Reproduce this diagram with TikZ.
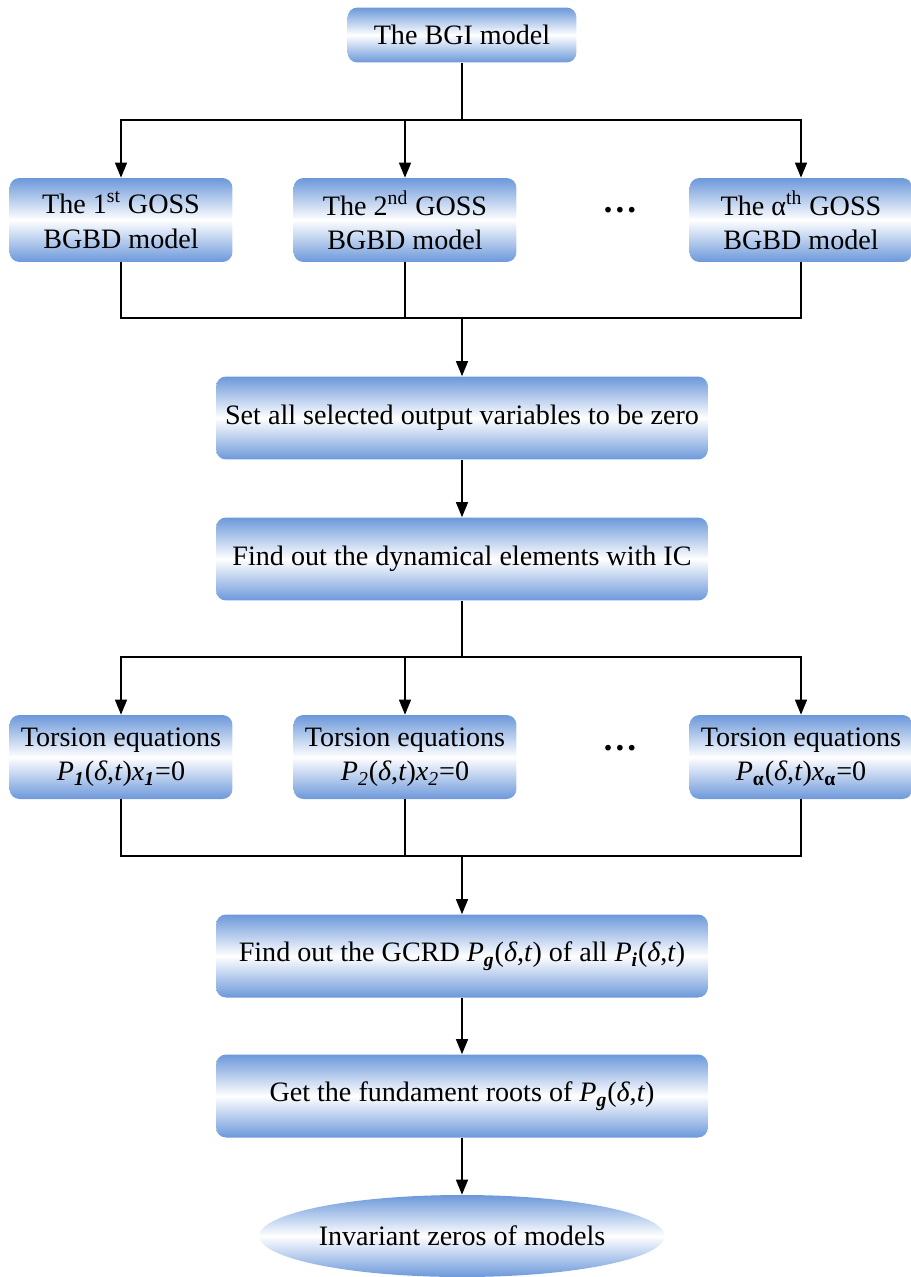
\documentclass[tikz,border=0pt]{standalone}
\usepackage{fontspec}
\setmainfont{Liberation Serif}
\usepackage{xcolor}
\usetikzlibrary{positioning,arrows.meta,shapes.geometric}

\definecolor{boxblue}{RGB}{108,152,218}
\newcommand{\deltat}{(\textit{δ},\textit{t})}

\begin{document}
\begin{tikzpicture}[x=0.02cm, y=-0.02cm,
    flowbox/.style={rounded corners=0.2cm, top color=boxblue, bottom color=boxblue, middle color=white,
        align=center, inner sep=0pt, font=\fontsize{16}{19.5}\selectfont},
    smallbox/.style={flowbox, minimum width=4.46cm, minimum height=1.68cm},
    widebox/.style={flowbox, minimum width=9.84cm, minimum height=1.66cm},
    endbox/.style={ellipse, top color=boxblue, bottom color=boxblue, middle color=white,
        inner sep=0pt, minimum width=7.9cm, minimum height=1.64cm, font=\fontsize{16}{19.5}\selectfont},
    dotsnode/.style={font=\fontsize{20}{20}\selectfont\bfseries},
    arrow/.style={-{Triangle[length=0.3cm, width=0.24cm]}, thick},
    line/.style={thick}]
    \useasboundingbox (0,0) rectangle (911,1277);

    % Wierzchołki

    \node[flowbox, minimum width=4.58cm, minimum height=1.1cm] (bgi) at (462,35) {The BGI model};
    \node[smallbox] (goss1) at (121,220) {The 1\textsuperscript{st} GOSS\\BGBD model};
    \node[smallbox] (goss2) at (405,220) {The 2\textsuperscript{nd} GOSS\\BGBD model};
    \node[dotsnode] (gossdots) at (620,210) {…};
    \node[smallbox] (gossa) at (801,220) {The α\textsuperscript{th} GOSS\\BGBD model};
    \node[widebox] (setzero) at (462,418) {Set all selected output variables to be zero};
    \node[widebox] (findic) at (462,559) {Find out the dynamical elements with IC};
    \node[smallbox] (tors1) at (121,757) {Torsion equations\\\textit{P}\textsubscript{\textbf{\textit{1}}}\deltat\textit{x}\textsubscript{\textbf{\textit{1}}}=0};
    \node[smallbox] (tors2) at (405,757) {Torsion equations\\\textit{P}\textsubscript{\textit{2}}\deltat\textit{x}\textsubscript{\textit{2}}=0};
    \node[dotsnode] (torsdots) at (620,748) {…};
    \node[smallbox] (torsa) at (801,757) {Torsion equations\\\textit{P}\textsubscript{\textbf{α}}\deltat\textit{x}\textsubscript{\textbf{α}}=0};
    \node[widebox] (gcrd) at (462,956) {Find out the GCRD \textit{P}\textsubscript{\textbf{\textit{g}}}\deltat\ of all \textit{P}\textsubscript{\textbf{\textit{i}}}\deltat};
    \node[widebox] (roots) at (462,1096) {Get the fundament roots of \textit{P}\textsubscript{\textbf{\textit{g}}}\deltat};
    \node[endbox] (zeros) at (462,1236) {Invariant zeros of models};

    \coordinate (split1) at (462,120);
    \coordinate (join1) at (462,318);
    \coordinate (split2) at (462,657);
    \coordinate (join2) at (462,856);

    % Krawędzie

    \draw[line] (bgi) -- (split1);
    \draw[arrow] (split1) -| (goss1);
    \draw[arrow] (split1) -| (goss2);
    \draw[arrow] (split1) -| (gossa);
    \draw[line] (goss1) |- (join1);
    \draw[line] (goss2) |- (join1);
    \draw[line] (gossa) |- (join1);
    \draw[arrow] (join1) -- (setzero);
    \draw[arrow] (setzero) -- (findic);
    \draw[line] (findic) -- (split2);
    \draw[arrow] (split2) -| (tors1);
    \draw[arrow] (split2) -| (tors2);
    \draw[arrow] (split2) -| (torsa);
    \draw[line] (tors1) |- (join2);
    \draw[line] (tors2) |- (join2);
    \draw[line] (torsa) |- (join2);
    \draw[arrow] (join2) -- (gcrd);
    \draw[arrow] (gcrd) -- (roots);
    \draw[arrow] (roots) -- (zeros);

\end{tikzpicture}
\end{document}
